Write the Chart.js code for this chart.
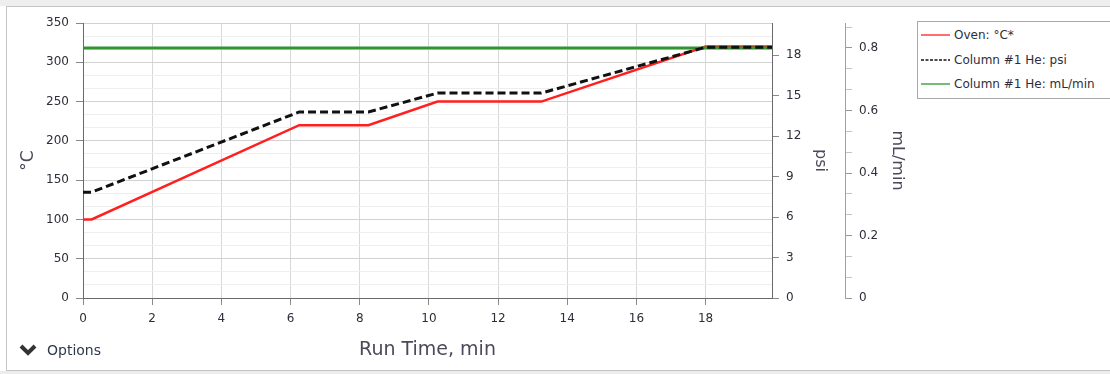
<!DOCTYPE html>
<html>
<head>
<meta charset="utf-8">
<script src="https://cdn.jsdelivr.net/npm/chart.js@4"></script>
<style>
  html, body { margin: 0; padding: 0; width: 1110px; height: 374px; overflow: hidden; background: #fff; font-family: "DejaVu Sans", sans-serif; }
  #band { position: absolute; left: 0; top: 0; width: 1110px; height: 6px; background: #eeeeee; }
  #frame { position: absolute; left: 6px; top: 6px; width: 1120px; height: 363px; border: 1px solid #c4c4c4; background: #fff; }
  #under { position: absolute; left: 0; top: 371px; width: 1110px; height: 3px; background: #ececec; }
  #chartBox { position: absolute; left: 0; top: 0; width: 1110px; height: 374px; }
  #legend { position: absolute; left: 917px; top: 21px; width: 220px; height: 76px; border: 1px solid #a8a8a8; background: #fff; }
  .row { position: absolute; left: 3px; height: 14px; font-size: 12px; line-height: 14px; color: #2e2e38; white-space: nowrap; }
  .row svg { position: absolute; left: 0; top: 0; }
  .row span { position: absolute; left: 33px; top: 0; }
  #options { position: absolute; left: 18px; top: 341px; height: 18px; font-size: 14px; line-height: 18px; color: #2c3a4c; }
  #options svg { position: absolute; left: 0; top: 1px; }
  #options span { position: absolute; left: 29px; top: 0; }
</style>
</head>
<body>
<div id="band"></div>
<div id="frame"></div>
<div id="under"></div>
<div id="chartBox"><canvas id="chartLine" width="1110" height="374"></canvas></div>
<div id="legend"></div>
<div id="options">
  <svg width="20" height="16"><polyline points="3,4 10,11 17,4" fill="none" stroke="#333" stroke-width="4"/></svg>
  <span>Options</span>
</div>
<script>
// axis ticks
const timeTicks = [0, 2, 4, 6, 8, 10, 12, 14, 16, 18];
const tempTicks = [0, 50, 100, 150, 200, 250, 300, 350];
const psiTicks = [0, 3, 6, 9, 12, 15, 18];
const flowTicks = [0, 0.2, 0.4, 0.6, 0.8];

// series
const ovenTime = [0, 0.25, 6.25, 8.25, 10.25, 13.25, 18, 19.92];
const ovenTemp = [100, 100, 220, 220, 250, 250, 320, 320];
const psiTime = [0, 0.25, 6.25, 8.25, 10.25, 13.25, 18, 19.92];
const psiValues = [7.85, 7.85, 13.8, 13.8, 15.2, 15.2, 18.6, 18.6];
const flowTime = [0, 19.92];
const flowValues = [0.8, 0.8];

const labels = ["Oven: °C*", "Column #1 He: psi", "Column #1 He: mL/min"];

const pts = (xs, ys) => xs.map((x, i) => ({x: x, y: ys[i]}));

// major ticks plus "parts-1" minor ticks between them
function withMinor(major, parts, max) {
  const out = [];
  const step = (major[1] - major[0]) / parts;
  for (let i = 0; i < major.length; i++) {
    out.push({value: major[i], isMajor: true});
    for (let k = 1; k < parts; k++) {
      const v = major[i] + k * step;
      if (v <= max + 1e-9) out.push({value: v, isMajor: false});
    }
  }
  return out;
}

const tickFont = {family: "DejaVu Sans", size: 12};
const tickColor = "#2e2e3a";
const titleColor = "#4a4a5a";

const tempMax = 350, psiMax = 20.4, flowMax = 0.88, timeMax = 19.92;

new Chart(document.querySelector("#chartLine"), {
  type: "line",
  data: {
    datasets: [{
      label: labels[0],
      data: pts(ovenTime, ovenTemp),
      borderColor: "#ff1f1f",
      borderWidth: 2.5,
      yAxisID: "yTemp",
      order: 2
    }, {
      label: labels[1],
      data: pts(psiTime, psiValues),
      borderColor: "#111111",
      borderWidth: 3,
      borderDash: [8, 4],
      yAxisID: "yPsi",
      order: 0
    }, {
      label: labels[2],
      data: pts(flowTime, flowValues),
      borderColor: "#2f962f",
      borderWidth: 3,
      yAxisID: "yFlow",
      order: 1
    }]
  },
  options: {
    responsive: false,
    animation: false,
    devicePixelRatio: 1,
    layout: {padding: {left: 8, top: 23, right: 200, bottom: 8}},
    elements: {point: {radius: 0}, line: {tension: 0}},
    plugins: {legend: {display: false}, tooltip: {enabled: false}},
    scales: {
      x: {
        type: "linear",
        min: 0, max: timeMax,
        afterBuildTicks: s => { s.ticks = timeTicks.map(v => ({value: v})); },
        afterFit: s => { s.height = 68; },
        ticks: {autoSkip: false, maxRotation: 0, padding: 7, font: tickFont, color: tickColor},
        grid: {color: "#d8d8d8", tickLength: 7, tickColor: "#888"},
        border: {color: "#6a6a6a"},
        title: {display: true, text: "Run Time, min", color: titleColor, font: {family: "DejaVu Sans", size: 19}, padding: {top: 0, bottom: 4.6}}
      },
      yTemp: {
        position: "left",
        min: 0, max: tempMax,
        afterBuildTicks: s => { s.ticks = withMinor(tempTicks, 3, tempMax); },
        afterFit: s => { s.width = 75; },
        ticks: {
          autoSkip: false, padding: 7, font: tickFont, color: tickColor,
          callback: (v, i, t) => t[i].isMajor ? String(Math.round(v)) : ""
        },
        grid: {
          tickLength: 7,
          color: c => c.tick && c.tick.isMajor ? "#d2d2d2" : "#eeeeee",
          tickColor: c => c.tick && c.tick.isMajor ? "#888" : "rgba(0,0,0,0)"
        },
        border: {color: "#6a6a6a"},
        title: {display: true, text: "°C", color: titleColor, font: {family: "DejaVu Sans", size: 17}, padding: {top: 10, bottom: 0}}
      },
      yPsi: {
        position: "right",
        min: 0, max: psiMax,
        afterBuildTicks: s => { s.ticks = psiTicks.map(v => ({value: v})); },
        afterFit: s => { s.width = 73; },
        ticks: {autoSkip: false, padding: 7, font: tickFont, color: tickColor},
        grid: {drawOnChartArea: false, tickLength: 7, tickColor: "#888"},
        border: {color: "#6a6a6a"},
        title: {display: true, text: "psi", color: titleColor, font: {family: "DejaVu Sans", size: 16}, padding: {top: 15.4, bottom: 0}}
      },
      yFlow: {
        position: "right",
        min: 0, max: flowMax,
        afterBuildTicks: s => { s.ticks = withMinor(flowTicks, 3, flowMax); },
        afterFit: s => { s.width = 65; },
        ticks: {
          autoSkip: false, padding: 7, font: tickFont, color: tickColor,
          callback: (v, i, t) => t[i].isMajor ? (v === 0 ? "0" : v.toFixed(1)) : ""
        },
        grid: {
          drawOnChartArea: false, tickLength: 7,
          tickColor: c => c.tick && c.tick.isMajor ? "#999" : "#c4c4c4"
        },
        border: {color: "#a0a0a0"},
        title: {display: true, text: "mL/min", color: titleColor, font: {family: "DejaVu Sans", size: 16}, padding: {top: 3.4, bottom: 0}}
      }
    }
  }
});

// legend box
const legendStyles = [
  {color: "#ff1f1f", dash: ""},
  {color: "#111111", dash: "3,1.5"},
  {color: "#2f962f", dash: ""}
];
const rowTops = [6, 31, 55];
const legend = document.querySelector("#legend");
labels.forEach((text, i) => {
  const row = document.createElement("div");
  row.className = "row";
  row.style.top = rowTops[i] + "px";
  row.innerHTML = '<svg width="30" height="14"><line x1="0" y1="7" x2="29" y2="7" stroke="' +
    legendStyles[i].color + '" stroke-width="1.3" stroke-dasharray="' + legendStyles[i].dash + '"/></svg>';
  const span = document.createElement("span");
  span.textContent = text;
  row.appendChild(span);
  legend.appendChild(row);
});
</script>
</body>
</html>
